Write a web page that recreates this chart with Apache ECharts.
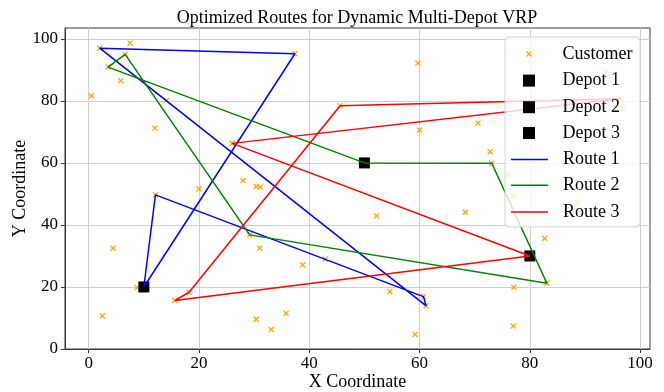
<!DOCTYPE html>
<html><head><meta charset="utf-8">
<script src="https://cdn.jsdelivr.net/npm/echarts@6/dist/echarts.min.js"></script>
<style>html,body{margin:0;padding:0;background:#fff}#c{width:664px;height:392px}</style>
</head><body><div id="c"></div>
<script>
const customers = [
  [2.0,97.0],[7.5,98.6],[6.6,95.0],[3.5,90.9],[5.8,86.5],[0.5,81.6],[14.1,80.1],[12.0,71.2],
  [26.0,66.3],[28.0,54.3],[30.4,52.4],[31.1,52.2],[20.0,51.6],[37.4,95.2],[59.7,92.2],[45.6,78.4],
  [60.0,70.6],[70.6,72.8],[72.8,63.6],[73.1,59.9],[76.0,56.0],[93.9,89.4],[96.4,80.7],[96.9,77.5],
  [4.4,32.5],[2.5,10.7],[8.8,19.8],[18.2,18.3],[15.6,15.6],[30.4,9.6],[31.0,32.5],[12.1,49.7],
  [29.2,36.8],[52.2,42.9],[42.9,29.0],[38.8,27.1],[54.6,18.5],[35.8,11.5],[33.1,6.3],[59.2,4.7],
  [60.7,16.9],[61.2,13.9],[68.3,44.1],[77.0,49.5],[88.6,47.2],[82.7,35.7],[77.1,19.9],[77.0,7.4],
  [83.1,21.2]
];
const depot1 = [[10,20]];
const depot2 = [[50,60]];
const depot3 = [[80,30]];
const route1 = [[10,20],[37.4,95.2],[2.0,97.0],[61.2,13.9],[60.7,16.9],[12.1,49.7],[10,20]];
const route2 = [[50,60],[73.1,59.9],[83.1,21.2],[29.2,36.8],[6.6,95.0],[3.5,90.9],[50,60]];
const route3 = [[80,30],[15.6,15.6],[18.2,18.3],[45.6,78.4],[96.4,80.7],[26.0,66.3],[80,30]];
const xTicks = [0,20,40,60,80,100];
const yTicks = [0,20,40,60,80,100];
const legendNames = ['Customer','Depot 1','Depot 2','Depot 3','Route 1','Route 2','Route 3'];

const FONT = "'Liberation Serif','Times New Roman',serif";
const CROSS = 'path://M0,1.5L1.5,0L5,3.5L8.5,0L10,1.5L6.5,5L10,8.5L8.5,10L5,6.5L1.5,10L0,8.5L3.5,5Z';
const SQUARE = 'path://M0,0H10V10H0Z';
const LINEICON = 'path://M0,0H37V1.5H0Z';
const AX = '#3a3a3a';

const chart = echarts.init(document.getElementById('c'), null, {renderer:'canvas'});
const legText = {fontFamily: FONT, fontSize: 18, color: '#000', padding:[0,0,0,10]};
const legendCfg = [
  {icon: CROSS, left: 526, h: 6},
  {icon: SQUARE, left: 523, h: 12},
  {icon: SQUARE, left: 523, h: 12},
  {icon: SQUARE, left: 523, h: 12},
  {icon: LINEICON, left: 511, h: 12},
  {icon: LINEICON, left: 511, h: 12},
  {icon: LINEICON, left: 511, h: 12}
];
const legendTops = [45, 71.6, 98.2, 124, 150.6, 176.3, 203];
const legends = legendNames.map((n, i) => ({
  data: [{name: n, icon: legendCfg[i].icon}], orient: 'vertical',
  left: legendCfg[i].left, top: legendTops[i], padding: 0,
  itemWidth: 37, itemHeight: legendCfg[i].h, symbolKeepAspect: true, z: 20, selectedMode: false,
  textStyle: Object.assign({lineHeight: legendCfg[i].h}, legText)
}));

chart.setOption({
  backgroundColor: '#fff',
  animation: false,
  title: {
    text: 'Optimized Routes for Dynamic Multi-Depot VRP',
    left: 357, textAlign: 'center', top: 9, padding: 0,
    textStyle: {fontFamily: FONT, fontSize: 18, fontWeight: 'normal', color: '#000'}
  },
  grid: {left: 65, top: 28, width: 585, height: 321, show: true, borderColor: AX, borderWidth: 1,
         backgroundColor: '#fff', containLabel: false, outerBoundsMode: 'none'},
  xAxis: {
    type: 'value', min: -4.3, max: 101.8, splitNumber: 5,
    name: 'X Coordinate', nameLocation: 'middle', nameGap: 24, nameMoveOverlap: false,
    nameTextStyle: {fontFamily: FONT, fontSize: 18, color: '#000'},
    axisLine: {show: true, onZero: false, lineStyle: {color: AX, width: 1}},
    axisTick: {show: true, length: 4, lineStyle: {color: AX}, customValues: xTicks},
    axisLabel: {fontFamily: FONT, fontSize: 17, color: '#000', margin: 6, customValues: xTicks,
      formatter: v => xTicks.includes(v) ? String(v) : ''},
    splitLine: {show: true, lineStyle: {color: '#cfcfcf', width: 1}}
  },
  yAxis: {
    type: 'value', min: 0, max: 103.5, interval: 20,
    name: 'Y Coordinate', nameLocation: 'middle', nameGap: 36, nameMoveOverlap: false,
    nameTextStyle: {fontFamily: FONT, fontSize: 18, color: '#000'},
    axisLine: {show: true, onZero: false, lineStyle: {color: AX, width: 1}},
    axisTick: {show: true, length: 4, lineStyle: {color: AX}, customValues: yTicks},
    axisLabel: {fontFamily: FONT, fontSize: 17, color: '#000', margin: 7, customValues: yTicks,
      formatter: v => yTicks.includes(v) ? String(v) : ''},
    splitLine: {show: true, lineStyle: {color: '#cfcfcf', width: 1}}
  },
  graphic: [{
    type: 'rect', z: 10, silent: true,
    shape: {x: 505, y: 37, width: 135, height: 190, r: 4},
    style: {fill: 'rgba(255,255,255,0.8)', stroke: '#d4d4d4', lineWidth: 1}
  }],
  legend: legends,
  series: [
    {name: 'Customer', type: 'scatter', data: customers, symbol: CROSS, symbolSize: 6,
     itemStyle: {color: '#ffa500', opacity: 1}, z: 2},
    {name: 'Depot 1', type: 'scatter', data: depot1, symbol: SQUARE, symbolSize: 11, itemStyle: {color: '#000', opacity: 1}, z: 2},
    {name: 'Depot 2', type: 'scatter', data: depot2, symbol: SQUARE, symbolSize: 11, itemStyle: {color: '#000', opacity: 1}, z: 2},
    {name: 'Depot 3', type: 'scatter', data: depot3, symbol: SQUARE, symbolSize: 11, itemStyle: {color: '#000', opacity: 1}, z: 2},
    {name: 'Route 1', type: 'line', data: route1, showSymbol: false, symbol: 'none', itemStyle: {color: '#0000ff'},
     lineStyle: {color: '#0000ff', width: 1.5}, z: 3},
    {name: 'Route 2', type: 'line', data: route2, showSymbol: false, symbol: 'none', itemStyle: {color: '#008000'},
     lineStyle: {color: '#008000', width: 1.5}, z: 3},
    {name: 'Route 3', type: 'line', data: route3, showSymbol: false, symbol: 'none', itemStyle: {color: '#ff0000'},
     lineStyle: {color: '#ff0000', width: 1.5}, z: 3}
  ]
});
</script></body></html>
